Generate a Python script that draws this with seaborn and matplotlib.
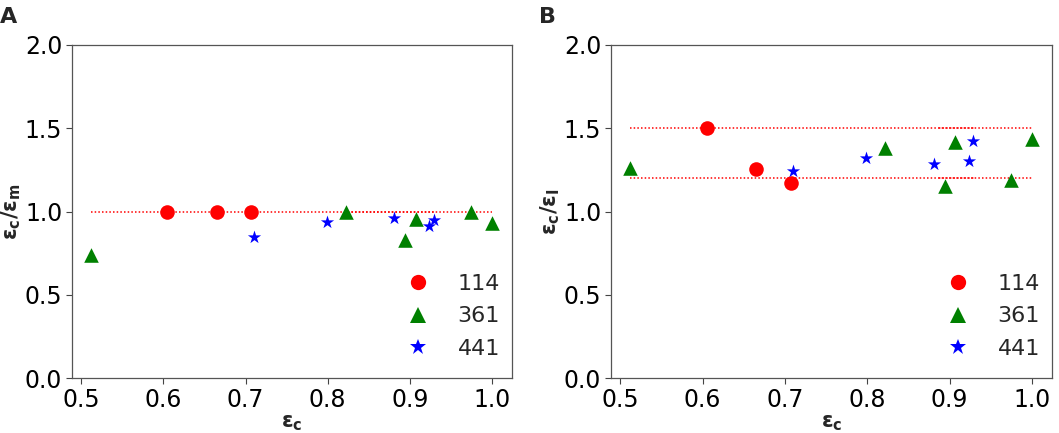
import matplotlib
matplotlib.use("Agg")
import matplotlib.pyplot as plt
import seaborn as sns
import pandas as pd
import numpy as np
from matplotlib.lines import Line2D

# ---- data ----
groups = ["114", "361", "441"]
x_114 = [0.605, 0.665, 0.707]
x_361 = [0.512, 0.822, 0.894, 0.907, 0.974, 1.000]
x_441 = [0.710, 0.799, 0.881, 0.923, 0.929]

a_114 = [1.00, 1.00, 1.00]
a_361 = [0.739, 1.00, 0.83, 0.953, 0.996, 0.933]
a_441 = [0.849, 0.937, 0.963, 0.915, 0.949]

b_114 = [1.50, 1.253, 1.173]
b_361 = [1.259, 1.379, 1.155, 1.415, 1.189, 1.435]
b_441 = [1.245, 1.32, 1.285, 1.305, 1.423]

ref_a = [1.0]
ref_b = [1.5, 1.2]
ref_x = [0.512, 1.000]
overlap_a = [0.822, 0.929]
overlap_b = [0.885, 0.930]

yticks = [0.0, 0.5, 1.0, 1.5, 2.0]
xticks = [0.5, 0.6, 0.7, 0.8, 0.9, 1.0]

colors = {"114": "red", "361": "green", "441": "blue"}
markers = {"114": "o", "361": "^", "441": "*"}
sizes = {"114": 110, "361": 110, "441": 100}

df = pd.DataFrame({
    "x": x_114 + x_361 + x_441,
    "A": a_114 + a_361 + a_441,
    "B": b_114 + b_361 + b_441,
    "group": ["114"] * len(x_114) + ["361"] * len(x_361) + ["441"] * len(x_441),
})

sns.set_style("ticks")
plt.rcParams["font.family"] = ["DejaVu Sans"]
plt.rcParams["mathtext.fontset"] = "dejavusans"

fig = plt.figure(figsize=(10.59, 4.33), dpi=100)
axA = fig.add_axes([72 / 1059, 55 / 433, 440 / 1059, 333 / 433])
axB = fig.add_axes([611 / 1059, 55 / 433, 441 / 1059, 333 / 433])

def draw(ax, col, refs, overlap, ylabel, letter):
    for y in refs:
        ax.plot(ref_x, [y, y], color="red", linestyle=(0, (1, 1.4)), lw=1.1, zorder=1)
        ax.plot(overlap, [y, y], color="red", linestyle=(1.2, (1, 1.4)), lw=1.1, zorder=1)
    for g in groups:
        sub = df[df["group"] == g]
        sns.scatterplot(data=sub, x="x", y=col, ax=ax, color=colors[g],
                        marker=markers[g], s=sizes[g], linewidth=0, zorder=3,
                        legend=False)
    ax.set_ylim(0, 2.0)
    ax.set_xlim(0.4888, 1.0244)
    ax.set_yticks(yticks)
    ax.set_xticks(xticks)
    ax.tick_params(labelsize=17, length=4, width=0.8, pad=3,
                   colors="#444444", labelcolor="black")
    for s in ax.spines.values():
        s.set_color("#555555")
        s.set_linewidth(0.9)
    ax.set_xlabel(r"$\mathbf{\varepsilon_c}$", fontsize=15, labelpad=1)
    ax.set_ylabel(ylabel, fontsize=15, labelpad=1)
    handles = [Line2D([], [], linestyle="none", marker=markers[g], color=colors[g],
                      markersize=11 if g != "441" else 12, markeredgewidth=0)
               for g in groups]
    ax.legend(handles, groups, loc="lower right", frameon=False, fontsize=16,
              handletextpad=0.8, labelspacing=0.56, borderaxespad=0.0,
              bbox_to_anchor=(0.993, 0.031))
    fig.text(ax.get_position().x0 - 72 / 1059, 0.96, letter,
             fontsize=16, fontweight="bold", va="center", ha="left",
             transform=fig.transFigure)

draw(axA, "A", ref_a, overlap_a, r"$\mathbf{\varepsilon_c/\varepsilon_m}$", "A")
draw(axB, "B", ref_b, overlap_b, r"$\mathbf{\varepsilon_c/\varepsilon_I}$", "B")

fig.savefig("out.png", dpi=100)
